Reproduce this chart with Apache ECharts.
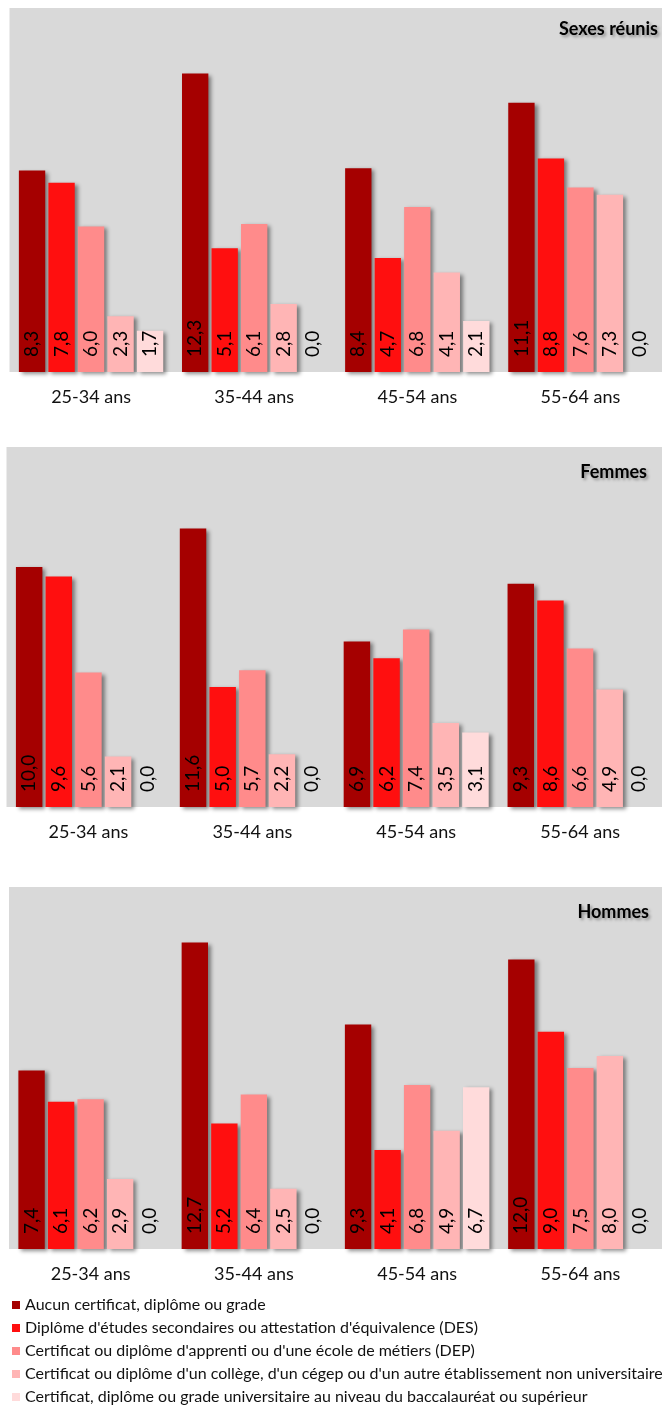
<!DOCTYPE html>
<html>
<head>
<meta charset="utf-8">
<script src="https://cdn.jsdelivr.net/npm/echarts@6/dist/echarts.min.js"></script>
<style>
  html, body { margin: 0; padding: 0; background: #ffffff; }
  #chart { width: 662px; height: 1405px; }
</style>
</head>
<body>
<div id="chart"></div>
<script>
// ---- Data ----
const categories = ['25-34 ans', '35-44 ans', '45-54 ans', '55-64 ans'];
const seriesNames = [
  "Aucun certificat, diplôme ou grade",
  "Diplôme d'études secondaires ou attestation d'équivalence (DES)",
  "Certificat ou diplôme d'apprenti ou d'une école de métiers (DEP)",
  "Certificat ou diplôme d'un collège, d'un cégep ou d'un autre établissement non universitaire",
  "Certificat, diplôme ou grade universitaire au niveau du baccalauréat ou supérieur"
];
const panelTitles = ['Sexes réunis', 'Femmes', 'Hommes'];

// Sexes réunis
const reunis_aucun    = [8.3, 12.3, 8.4, 11.1];
const reunis_des      = [7.8, 5.1, 4.7, 8.8];
const reunis_dep      = [6.0, 6.1, 6.8, 7.6];
const reunis_college  = [2.3, 2.8, 4.1, 7.3];
const reunis_univ     = [1.7, 0.0, 2.1, 0.0];

// Femmes
const femmes_aucun    = [10.0, 11.6, 6.9, 9.3];
const femmes_des      = [9.6, 5.0, 6.2, 8.6];
const femmes_dep      = [5.6, 5.7, 7.4, 6.6];
const femmes_college  = [2.1, 2.2, 3.5, 4.9];
const femmes_univ     = [0.0, 0.0, 3.1, 0.0];

// Hommes
const hommes_aucun    = [7.4, 12.7, 9.3, 12.0];
const hommes_des      = [6.1, 5.2, 4.1, 9.0];
const hommes_dep      = [6.2, 6.4, 6.8, 7.5];
const hommes_college  = [2.9, 2.5, 4.9, 8.0];
const hommes_univ     = [0.0, 0.0, 6.7, 0.0];

const panelData = [
  [reunis_aucun, reunis_des, reunis_dep, reunis_college, reunis_univ],
  [femmes_aucun, femmes_des, femmes_dep, femmes_college, femmes_univ],
  [hommes_aucun, hommes_des, hommes_dep, hommes_college, hommes_univ]
];

// ---- Styles ----
const COLORS = ['#A50000', '#FF0F0F', '#FF8B8B', '#FFB5B5', '#FFDBDB'];
const FONT = 'Lato, "Open Sans", sans-serif';
const GRIDS = [
  { left: 9.5, top: 8,   width: 664, height: 364 },
  { left: 6.5, top: 447, width: 656, height: 360 },
  { left: 9,   top: 887, width: 658, height: 362 }
];
const TITLE_POS = [
  { right: 4,  top: 20 },
  { right: 15, top: 463 },
  { right: 13, top: 903 }
];

const fmt = v => v.toFixed(1).replace('.', ',');

const option = {
  animation: false,
  color: COLORS,
  textStyle: { fontFamily: FONT },
  title: panelTitles.map((t, i) => ({
    text: t,
    right: TITLE_POS[i].right,
    top: TITLE_POS[i].top,
    padding: 0,
    textStyle: {
      fontFamily: FONT,
      fontSize: 18,
      fontWeight: 'bold',
      color: '#000',
      textShadowColor: 'rgba(0,0,0,0.35)',
      textShadowBlur: 3,
      textShadowOffsetX: 2,
      textShadowOffsetY: 2
    }
  })),
  legend: {
    orient: 'vertical',
    left: 12,
    top: 1297,
    padding: 0,
    itemWidth: 8,
    itemHeight: 8,
    itemGap: 7,
    itemTextGap: 3,
    icon: 'rect',
    data: seriesNames,
    textStyle: { fontFamily: FONT, fontSize: 16, color: '#111', lineHeight: 16 }
  },
  grid: GRIDS.map(g => ({
    left: g.left, top: g.top, width: g.width, height: g.height,
    show: true, backgroundColor: '#D9D9D9', borderWidth: 0
  })),
  xAxis: GRIDS.map((g, i) => ({
    type: 'category',
    gridIndex: i,
    data: categories,
    axisLine: { show: false },
    axisTick: { show: false },
    splitLine: { show: false },
    axisLabel: { fontFamily: FONT, fontSize: 18, color: '#111', margin: 16 }
  })),
  yAxis: GRIDS.map((g, i) => ({
    type: 'value',
    gridIndex: i,
    min: 0,
    max: 15,
    show: false,
    splitLine: { show: false }
  })),
  series: []
};

panelData.forEach((arrs, pi) => {
  arrs.forEach((arr, si) => {
    option.series.push({
      type: 'bar',
      name: seriesNames[si],
      xAxisIndex: pi,
      yAxisIndex: pi,
      data: arr,
      barGap: '12%',
      barCategoryGap: '11.5%',
      itemStyle: {
        color: COLORS[si],
        shadowColor: 'rgba(0,0,0,0.45)',
        shadowBlur: 4,
        shadowOffsetX: 3,
        shadowOffsetY: 2
      },
      label: {
        show: true,
        position: 'insideBottom',
        distance: 15,
        align: 'left',
        verticalAlign: 'middle',
        rotate: 90,
        fontFamily: FONT,
        fontSize: 19,
        color: '#000',
        formatter: p => fmt(p.value)
      }
    });
  });
});

const chart = echarts.init(document.getElementById('chart'), null, { renderer: 'canvas' });
chart.setOption(option);
</script>
</body>
</html>
